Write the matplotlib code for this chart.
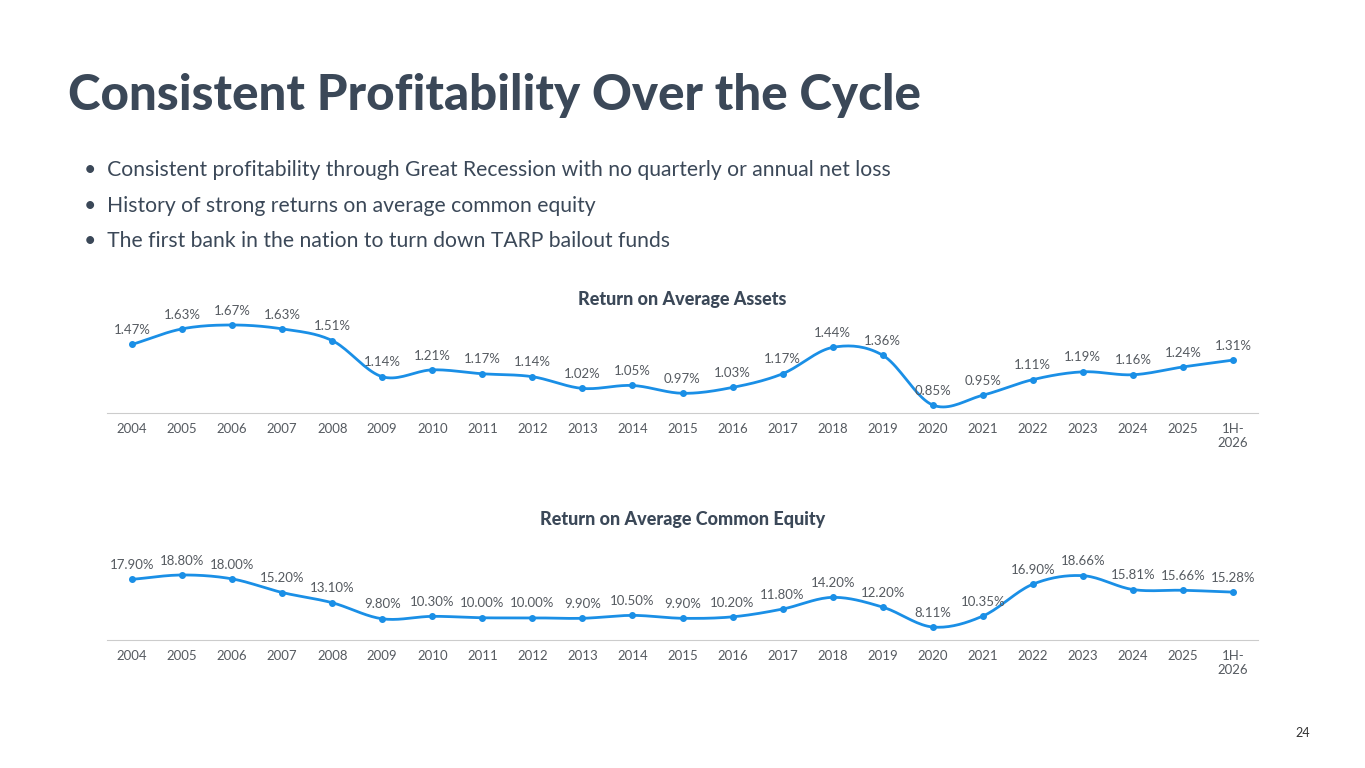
import numpy as np
import matplotlib.pyplot as plt

years = ['2004', '2005', '2006', '2007', '2008', '2009', '2010', '2011', '2012', '2013', '2014',
         '2015', '2016', '2017', '2018', '2019', '2020', '2021', '2022', '2023', '2024', '2025', '1H-\n2026']
roaa = [1.47, 1.63, 1.67, 1.63, 1.51, 1.14, 1.21, 1.17, 1.14, 1.02, 1.05,
        0.97, 1.03, 1.17, 1.44, 1.36, 0.85, 0.95, 1.11, 1.19, 1.16, 1.24, 1.31]
roace = [17.90, 18.80, 18.00, 15.20, 13.10, 9.80, 10.30, 10.00, 10.00, 9.90, 10.50,
         9.90, 10.20, 11.80, 14.20, 12.20, 8.11, 10.35, 16.90, 18.66, 15.81, 15.66, 15.28]

DARK = '#3b4858'
BLUE = '#1a8fe6'
GRAY = '#555a60'
plt.rcParams['font.family'] = ['Lato', 'DejaVu Sans']

fig = plt.figure(figsize=(13.65, 7.68), dpi=100)
fig.text(68 / 1365, 1 - 95 / 768, 'Consistent Profitability Over the Cycle', fontsize=35.5,
         fontweight='black', color=DARK, va='center')
bullets = ['Consistent profitability through Great Recession with no quarterly or annual net loss',
           'History of strong returns on average common equity',
           'The first bank in the nation to turn down TARP bailout funds']
for i, b in enumerate(bullets):
    fig.text(84 / 1365, 1 - (170 + 35.5 * i) / 768, '•  ' + b, fontsize=15.2, color=DARK, va='center')
fig.text(1303 / 1365, 1 - 733 / 768, '24', fontsize=9, color='#333333', ha='center', va='center')


def smooth(x, y, n=20):
    # Catmull-Rom curve through the points, for drawing only
    x = np.asarray(x, float)
    y = np.asarray(y, float)
    px = np.concatenate([[2 * x[0] - x[1]], x, [2 * x[-1] - x[-2]]])
    py = np.concatenate([[2 * y[0] - y[1]], y, [2 * y[-1] - y[-2]]])
    xs, ys = [], []
    t = np.linspace(0, 1, n)
    for i in range(1, len(px) - 2):
        for p, out in ((px, xs), (py, ys)):
            p0, p1, p2, p3 = p[i - 1], p[i], p[i + 1], p[i + 2]
            out.append(0.5 * (2 * p1 + (-p0 + p2) * t + (2 * p0 - 5 * p1 + 4 * p2 - p3) * t ** 2
                              + (-p0 + 3 * p1 - 3 * p2 + p3) * t ** 3))
    return np.concatenate(xs), np.concatenate(ys)


def panel(rect, vals, ylim, title, title_y, fmt):
    ax = fig.add_axes(rect)
    x = np.arange(len(vals))
    sx, sy = smooth(x, vals)
    ax.plot(sx, sy, color=BLUE, lw=2)
    ax.plot(x, vals, 'o', color=BLUE, ms=4)
    for xi, v in zip(x, vals):
        ax.annotate(fmt.format(v), (xi, v), xytext=(0, 6), textcoords='offset points',
                    ha='center', va='bottom', fontsize=9.5, color=GRAY)
    ax.set_xlim(-0.5, len(vals) - 0.5)
    ax.set_ylim(*ylim)
    ax.set_xticks(x)
    ax.set_xticklabels(years, fontsize=9.5, color=GRAY)
    ax.set_yticks([])
    for s in ['top', 'left', 'right']:
        ax.spines[s].set_visible(False)
    ax.spines['bottom'].set_color('#cccccc')
    ax.tick_params(axis='x', length=0, pad=7)
    fig.text(0.5, 1 - title_y / 768, title, fontsize=13, fontweight='black', color=DARK,
             ha='center', va='center')


panel([107 / 1365, 1 - 413 / 768, 1151 / 1365, 113 / 768], roaa, (0.768, 1.926),
      'Return on Average Assets', 299, '{:.2f}%')
panel([107 / 1365, 1 - 640 / 768, 1151 / 1365, 80 / 768], roace, (5.44, 21.88),
      'Return on Average Common Equity', 520, '{:.2f}%')

fig.savefig('out.png', dpi=100)
